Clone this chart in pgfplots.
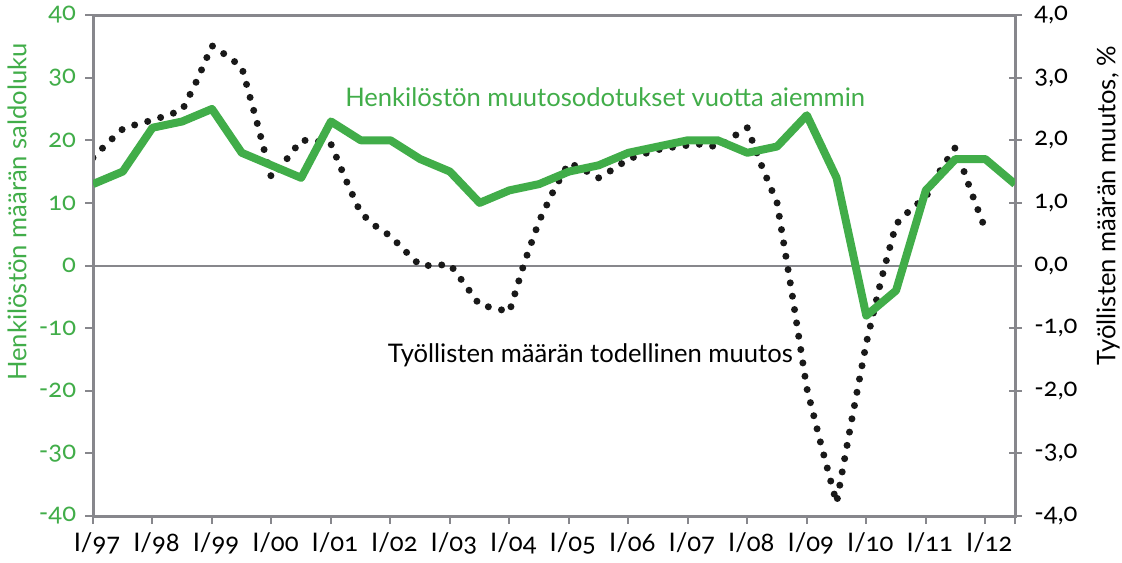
\documentclass[border=0pt]{standalone}
\usepackage{fontspec}
\setmainfont{Lato}[Numbers=OldStyle]
\usepackage{pgfplots}
\usepackage{pgfplotstable}
\pgfplotsset{compat=1.18}
\definecolor{grn}{RGB}{65,173,73}
\definecolor{axgray}{RGB}{135,135,140}
\definecolor{dotc}{RGB}{25,25,25}

\pgfplotstableread{
x y
1997.00 1.72
1997.25 1.96
1997.50 2.18
1997.75 2.26
1998.00 2.32
1998.25 2.40
1998.50 2.48
1998.75 2.96
1999.00 3.51
1999.25 3.35
1999.50 3.17
1999.75 2.31
2000.00 1.40
2000.25 1.69
2000.50 2.00
2000.75 1.99
2001.00 1.94
2001.25 1.37
2001.50 0.84
2001.75 0.63
2002.00 0.47
2002.25 0.23
2002.50 0.00
2002.75 0.00
2003.00 0.02
2003.25 -0.30
2003.50 -0.63
2003.75 -0.68
2004.00 -0.74
2004.25 0.04
2004.50 0.71
2004.75 1.21
2005.00 1.64
2005.25 1.53
2005.50 1.40
2005.75 1.54
2006.00 1.70
2006.25 1.78
2006.50 1.85
2006.75 1.89
2007.00 1.92
2007.25 1.94
2007.50 1.89
2007.75 2.05
2008.00 2.20
2008.25 1.57
2008.50 1.00
2008.75 -0.44
2009.00 -1.96
2009.25 -2.90
2009.50 -3.79
2009.75 -2.49
2010.00 -1.24
2010.25 -0.23
2010.50 0.66
2010.75 0.90
2011.00 1.09
2011.25 1.53
2011.50 1.89
2011.75 1.21
2012.00 0.58
}\dotdata

\pgfplotstableread{
x y
1997.0 13
1997.5 15
1998.0 22
1998.5 23
1999.0 25
1999.5 18
2000.0 16
2000.5 14
2001.0 23
2001.5 20
2002.0 20
2002.5 17
2003.0 15
2003.5 10
2004.0 12
2004.5 13
2005.0 15
2005.5 16
2006.0 18
2006.5 19
2007.0 20
2007.5 20
2008.0 18
2008.5 19
2009.0 24
2009.5 14
2010.0 -8
2010.5 -4
2011.0 12
2011.5 17
2012.0 17
2012.5 13
}\greendata

\begin{document}
\fontsize{12.8}{15}\selectfont
\begin{tikzpicture}
\pgfplotsset{
  common/.style={
    scale only axis, width=461pt, height=250.5pt,
    xmin=1997, xmax=2012.5,
    tick label style={font=\fontsize{12.8}{15}\selectfont},
    /pgf/number format/assume math mode=true,
    axis line style={axgray, line width=1.5pt},
    major tick style={axgray, line width=1pt},
    minor tick style={axgray, line width=1pt},
    clip mode=individual,
  }
}
% right axis: actual change (dotted)
\begin{axis}[common,
  ymin=-4, ymax=4,
  axis y line*=right, axis x line=none,
  ytick={-4,-3,-2,-1,0,1,2,3,4},
  yticklabels={{-4,0},{-3,0},{-2,0},{-1,0},{0,0},{1,0},{2,0},{3,0},{4,0}},
  tick align=center, major tick length=6.5pt,
  yticklabel style={text=black, xshift=2pt},
]
\addplot[axgray, line width=1pt] coordinates {(1997,0) (2012.5,0)};
\addplot[dotc, line width=3.5pt, line cap=round, dash pattern=on 0pt off 6.75pt] table {\dotdata};
\node[rotate=90, text=black, font=\fontsize{12.8}{15}\selectfont] at (axis description cs:1.1009,0.619) {Työllisten määrän muutos, \%};
\end{axis}
% left axis: expectations (green)
\begin{axis}[common,
  ymin=-40, ymax=40,
  ytick={-40,-30,-20,-10,0,10,20,30,40},
  yticklabels={-40,-30,-20,-10,0,10,20,30,40},
  ytick pos=left, xtick pos=bottom,
  tick align=outside, major tick length=4pt, minor tick length=4pt,
  xtick={1997,1998,...,2012},
  xticklabels={I/97,I/98,I/99,I/00,I/01,I/02,I/03,I/04,I/05,I/06,I/07,I/08,I/09,I/10,I/11,I/12},
  minor x tick num=1,
  extra x ticks={2012.5}, extra x tick labels={},
  extra x tick style={tick align=outside},
  xticklabel style={xshift=2pt},
  yticklabel style={text=grn},
]
\addplot[grn, line width=4pt, line join=round] table {\greendata};
\node[text=grn, font=\fontsize{12.8}{15}\selectfont] at (axis cs:2005.61,26.9) {Henkilöstön muutosodotukset vuotta aiemmin};
\node[text=black, font=\fontsize{12.8}{15}\selectfont] at (axis cs:2005.36,-14.3) {Työllisten määrän todellinen muutos};
\node[rotate=90, text=grn, font=\fontsize{12.8}{15}\selectfont] at (axis description cs:-0.0824,0.607) {Henkilöstön määrän saldoluku};
\end{axis}
\pgfresetboundingbox
\path (-46.5pt,-23pt) rectangle (514.5pt,258pt);
\end{tikzpicture}
\end{document}
